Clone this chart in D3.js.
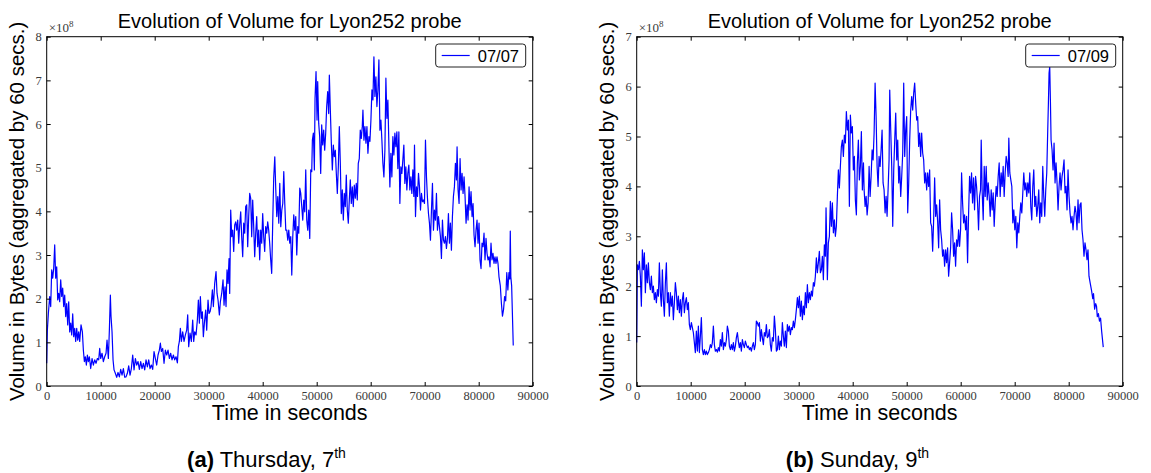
<!DOCTYPE html>
<html><head><meta charset="utf-8">
<script src="https://cdn.jsdelivr.net/npm/d3@7"></script>
<style>
html,body{margin:0;padding:0;background:#fff;}
svg{display:block;}
</style></head>
<body><svg id="c" width="1151" height="473"></svg>
<script>
// ---------- data (values in units of 1e8 bytes) ----------
const xTicks = [0,10000,20000,30000,40000,50000,60000,70000,80000,90000];
const yTicksA = [0,1,2,3,4,5,6,7,8];
const yTicksB = [0,1,2,3,4,5,6,7];
const titleText = "Evolution of Volume for Lyon252 probe";
const xLabel = "Time in seconds";
const yLabel = "Volume in Bytes (aggregated by 60 secs.)";
const legendA = "07/07";
const legendB = "07/09";

const timeA = [0,123,309,556,741,926,1111,1296,1482,1667,1852,2037,2222,2407,2593,2778,2963,3148,3333,3519,3704,3889,4074,4259,4444,4630,4815,5000,5185,5370,5556,5741,5926,6111,6358,6605,6790,6975,7160,7346,7531,7716,7901,8148,8395,8642,8889,9136,9383,9630,9815,10000,10247,10494,10741,10988,11173,11420,11605,11790,11914,12099,12284,12469,12716,12963,13210,13457,13704,13951,14198,14444,14691,14938,15185,15432,15679,15926,16173,16420,16667,16914,17160,17407,17654,17901,18148,18395,18642,18889,19136,19383,19630,19877,20123,20370,20617,20864,21049,21235,21481,21728,21975,22222,22469,22716,22963,23210,23457,23704,23951,24198,24383,24568,24753,24938,25185,25432,25679,25926,26111,26296,26543,26790,27037,27222,27407,27654,27901,28086,28272,28457,28642,28827,29012,29198,29444,29630,29877,30062,30247,30432,30679,30864,31111,31358,31543,31728,31975,32160,32407,32654,32840,33025,33210,33395,33580,33765,33889,34074,34259,34444,34630,34815,35000,35185,35370,35556,35741,35926,36111,36296,36481,36667,36852,37037,37222,37407,37593,37778,37963,38148,38333,38519,38704,38889,39074,39259,39444,39630,39815,40000,40185,40370,40556,40741,40926,41111,41296,41481,41667,41852,42037,42238,42423,42608,42793,42978,43163,43348,43534,43718,43903,44088,44274,44458,44643,44828,45013,45198,45383,45568,45753,45938,46123,46308,46493,46678,46863,47048,47233,47418,47602,47787,47972,48157,48342,48527,48714,48899,49083,49200,49384,49569,49692,49877,50062,50185,50370,50554,50739,50924,51109,51294,51478,51663,51848,52033,52218,52341,52526,52710,52895,53080,53265,53450,53634,53819,54004,54189,54374,54558,54743,54928,55113,55298,55482,55667,55852,56037,56222,56406,56591,56776,56961,57146,57330,57515,57700,57885,58070,58254,58439,58562,58747,58932,59117,59302,59486,59671,59856,60041,60226,60410,60595,60780,60965,61150,61334,61519,61704,61889,62074,62258,62443,62628,62813,62998,63182,63367,63552,63737,63922,64106,64291,64476,64661,64846,65030,65215,65400,65585,65770,65954,66139,66324,66509,66694,66878,67063,67248,67433,67618,67802,67987,68110,68295,68480,68665,68850,69034,69219,69404,69589,69774,69958,70143,70328,70513,70698,70882,71067,71252,71437,71622,71806,71991,72176,72361,72546,72730,72915,73100,73285,73470,73654,73839,74024,74209,74394,74578,74763,74948,75133,75318,75502,75687,75872,75995,76180,76365,76550,76735,76920,77104,77289,77474,77659,77844,78028,78213,78398,78583,78768,78952,79137,79322,79507,79692,79876,80061,80246,80431,80616,80800,80985,81170,81355,81540,81724,81909,82094,82279,82464,82648,82833,83018,83203,83388,83573,83758,84000,84200,84400,84600,84800,85000,85200,85400,85600,85750,85850,85950,86100,86400];
const volA = [0.52,1.28,1.66,2.05,1.82,2.66,2.47,2.69,3.23,2.47,2.73,1.97,2.12,1.93,2.43,2.05,2.24,1.82,2.08,1.59,1.89,1.40,1.93,1.24,1.44,1.17,1.65,1.13,1.32,1.02,1.32,1.05,1.24,1.02,1.40,1.24,0.82,0.56,0.67,0.48,0.71,0.56,0.67,0.40,0.63,0.48,0.60,0.52,0.63,0.60,0.86,0.63,0.75,0.56,0.67,0.75,1.05,0.63,1.28,2.08,1.59,1.24,0.60,0.37,0.29,0.20,0.31,0.21,0.38,0.25,0.40,0.20,0.21,0.29,0.46,0.25,0.40,0.71,0.37,0.63,0.48,0.56,0.38,0.56,0.40,0.52,0.37,0.60,0.44,0.60,0.40,0.48,0.38,0.79,0.63,0.48,0.71,0.82,0.98,0.79,0.86,0.52,0.82,0.71,0.82,0.63,0.75,0.60,0.71,0.60,0.67,0.53,0.90,1.02,1.32,1.02,1.24,1.02,1.17,1.28,1.63,0.90,1.21,1.02,1.51,1.02,1.24,1.17,1.51,1.97,1.44,2.05,1.55,1.70,1.13,1.44,1.74,1.28,1.97,1.66,1.70,1.82,2.20,1.82,2.35,2.62,2.12,1.97,1.63,1.93,2.12,2.43,1.85,2.27,1.82,2.66,2.35,2.92,2.12,4.03,3.42,3.57,3.08,3.69,3.76,3.57,3.80,3.27,3.69,3.99,3.42,2.96,3.73,3.50,4.11,4.15,3.19,3.88,4.41,4.30,3.42,4.26,3.65,2.96,3.50,3.88,3.19,3.57,2.89,3.57,3.27,3.95,3.42,3.08,3.65,3.50,3.76,3.57,3.27,2.89,2.58,3.73,4.76,5.25,4.49,3.88,4.34,3.73,4.64,3.65,4.03,4.18,4.91,4.18,3.57,3.57,3.34,3.57,3.27,3.42,2.54,3.42,3.92,3.57,3.88,3.00,3.65,3.50,4.53,4.41,4.11,3.80,4.26,3.99,4.95,3.80,3.57,4.03,3.38,4.95,4.91,5.63,5.79,4.95,6.59,7.20,6.09,6.97,6.02,5.71,4.87,5.98,5.52,5.86,5.40,5.79,6.40,6.74,6.24,7.12,6.32,5.56,4.95,5.52,5.25,5.40,4.87,4.41,5.02,5.94,5.10,3.95,4.49,3.80,4.41,4.11,4.83,4.03,3.73,4.26,4.72,4.18,4.56,4.11,4.60,4.30,4.64,4.26,5.10,5.21,5.86,5.67,5.94,6.32,5.63,5.94,5.56,5.94,5.33,5.71,5.60,6.09,6.78,6.55,7.54,6.63,7.08,6.40,6.78,7.47,5.86,6.09,5.63,5.10,4.79,5.40,7.05,6.13,6.55,5.52,4.56,5.33,4.79,5.71,5.29,5.79,5.48,5.82,4.98,5.82,4.18,5.02,4.87,5.18,5.52,4.64,5.02,4.49,4.87,5.06,4.49,4.79,4.41,4.95,4.34,5.52,3.88,4.56,4.34,4.87,4.56,4.03,4.41,4.22,4.26,4.18,5.63,4.79,4.30,3.95,3.73,3.34,4.03,4.64,3.57,4.03,3.80,4.41,3.57,3.88,3.65,3.42,2.92,3.80,3.34,3.27,3.42,3.15,3.38,3.95,3.27,3.73,3.11,3.88,4.34,4.56,5.10,4.72,5.48,4.49,4.18,5.21,4.49,4.87,4.41,4.79,4.34,3.73,4.15,3.80,4.56,4.03,4.45,3.88,4.18,3.46,3.19,3.57,3.80,3.27,3.73,2.89,2.69,3.27,3.19,3.50,2.89,3.38,3.04,2.89,2.96,2.73,3.27,2.89,3.04,2.81,2.96,2.81,2.96,2.81,2.50,2.30,1.90,1.60,1.75,2.05,1.95,2.60,2.20,2.60,2.45,3.55,2.50,2.30,0.93];

const timeB = [0,123,309,494,679,864,1049,1235,1420,1605,1790,1975,2160,2346,2531,2716,2901,3086,3272,3457,3642,3827,4012,4198,4383,4568,4753,4938,5124,5309,5494,5679,5864,6049,6235,6420,6605,6790,6975,7160,7346,7531,7716,7901,8086,8272,8457,8642,8827,9012,9198,9383,9568,9753,9938,10124,10309,10494,10679,10864,11049,11235,11420,11605,11790,11975,12160,12346,12531,12716,12901,13086,13272,13457,13642,13827,14012,14198,14383,14568,14753,14938,15123,15309,15494,15679,15864,16049,16235,16420,16605,16790,16975,17160,17346,17531,17716,17901,18086,18272,18457,18642,18827,19012,19198,19383,19568,19753,19938,20124,20309,20494,20679,20864,21049,21235,21420,21605,21790,21975,22160,22346,22531,22716,22901,23086,23272,23457,23642,23827,24012,24198,24383,24568,24753,24938,25124,25309,25494,25679,25864,26049,26235,26420,26605,26790,26975,27160,27346,27531,27716,27901,28086,28272,28457,28642,28827,29012,29198,29383,29568,29753,29938,30124,30309,30494,30679,30864,31049,31235,31420,31605,31790,31975,32160,32346,32531,32716,32901,33086,33272,33457,33642,33827,34012,34198,34383,34568,34753,34938,35062,35185,35309,35494,35679,35864,36049,36235,36420,36605,36790,36975,37160,37346,37531,37716,37901,38086,38272,38457,38642,38827,39012,39198,39383,39568,39753,39938,40124,40309,40494,40679,40864,41049,41235,41420,41605,41790,41992,42115,42300,42485,42670,42854,43039,43224,43409,43594,43778,43963,44148,44333,44518,44702,44887,45072,45257,45442,45626,45811,45996,46181,46366,46550,46735,46858,47043,47228,47413,47598,47782,47967,48152,48337,48522,48706,48891,49076,49261,49446,49630,49815,50000,50185,50370,50554,50739,50924,51109,51294,51478,51663,51848,52033,52218,52402,52587,52772,52957,53142,53326,53511,53696,53881,54066,54250,54435,54620,54805,54990,55174,55359,55544,55729,55914,56098,56283,56468,56653,56838,57022,57207,57392,57577,57762,57946,58131,58316,58501,58686,58870,59055,59240,59425,59610,59794,59979,60164,60349,60534,60718,60903,61088,61273,61458,61642,61827,62012,62197,62382,62566,62751,62936,63121,63306,63490,63675,63798,63983,64168,64353,64538,64722,64907,65092,65277,65462,65646,65831,66016,66201,66386,66570,66755,66940,67125,67310,67494,67679,67864,68049,68234,68418,68603,68788,68911,69096,69281,69466,69651,69835,70020,70205,70390,70575,70760,70944,71129,71314,71499,71684,71868,72053,72238,72423,72608,72792,72977,73162,73347,73532,73716,73901,74086,74271,74456,74640,74825,75010,75195,75380,75564,75749,75934,76119,76242,76365,76488,76611,76735,76920,77104,77289,77474,77659,77844,78028,78213,78398,78583,78768,78952,79137,79322,79507,79692,79876,80061,80246,80431,80616,80800,80985,81170,81355,81540,81724,81909,82094,82279,82464,82648,82833,83018,83203,83388,83573,83758,84000,84250,84450,84600,84800,85000,85150,85300,85500,85700,85900,86100,86400];
const volB = [0.87,2.43,2.33,2.50,2.20,1.60,2.73,2.33,2.67,1.87,2.43,2.07,2.47,2.07,1.93,2.20,1.87,2.00,1.73,1.87,1.67,1.93,1.80,2.47,1.87,1.60,2.33,1.73,1.40,2.07,2.47,1.67,1.87,1.40,1.87,1.60,1.80,1.33,1.67,2.07,1.87,1.53,1.80,1.47,1.73,1.40,1.73,1.87,1.47,1.67,1.77,1.53,1.67,1.23,1.13,1.27,1.17,1.07,0.87,0.67,1.10,0.70,1.20,0.67,1.00,1.37,0.73,0.63,0.73,0.63,0.70,0.63,0.67,0.73,0.83,0.77,0.87,1.20,0.83,0.70,0.73,0.68,0.77,0.70,0.93,0.80,1.07,0.73,0.87,0.80,0.93,1.20,1.10,0.80,0.73,0.83,0.73,0.87,0.70,0.80,0.97,1.07,0.90,0.77,0.87,0.70,0.93,0.83,0.77,0.90,0.83,0.77,0.80,0.73,0.77,0.70,0.80,0.87,0.73,0.83,1.30,1.27,1.20,1.27,0.90,1.13,0.97,0.83,1.07,1.00,1.23,0.97,1.00,1.13,0.83,0.70,0.97,0.90,1.40,1.13,0.70,0.73,1.00,0.73,0.90,0.80,1.27,1.00,0.80,1.10,0.77,1.23,1.10,1.20,1.03,1.17,1.13,1.30,1.17,1.33,1.53,1.77,1.57,1.80,1.40,1.70,1.33,1.60,1.43,1.87,1.57,2.03,1.67,1.87,1.73,1.90,1.80,2.07,2.00,2.20,2.57,2.27,2.47,2.70,2.27,2.33,2.60,2.13,2.83,2.60,3.57,2.87,2.13,2.87,3.00,3.70,3.20,3.67,3.07,3.33,3.00,3.20,3.80,4.33,3.97,4.40,4.80,4.93,4.60,5.03,4.87,5.50,5.13,5.33,3.60,5.43,5.07,5.20,4.33,4.60,3.73,3.43,4.47,4.93,4.13,4.40,5.10,3.93,4.47,3.93,3.60,3.80,3.43,3.67,4.40,3.80,4.20,4.73,4.53,5.07,6.07,5.40,4.40,4.00,4.60,4.40,4.73,5.13,4.07,3.93,3.47,3.80,3.40,3.93,4.53,5.93,5.13,4.40,3.20,4.33,4.93,5.47,4.53,4.93,4.07,4.40,3.80,4.20,4.67,6.07,4.60,5.13,5.40,3.47,4.07,4.93,5.53,5.80,5.53,5.87,6.07,5.67,5.33,5.40,4.80,5.07,4.60,5.07,4.67,4.53,4.07,4.27,3.93,4.27,4.00,4.33,3.27,3.20,2.70,3.33,4.17,3.40,3.63,3.30,2.77,3.73,3.13,2.93,2.60,2.73,2.40,2.73,2.47,2.77,2.20,2.47,2.77,3.47,3.13,2.60,2.87,2.40,2.93,2.80,3.13,2.80,3.13,4.27,3.67,3.27,3.43,3.13,3.40,2.47,3.43,4.20,3.87,4.27,3.67,4.17,3.53,4.20,4.00,3.67,3.13,3.80,3.93,4.93,3.87,3.33,4.40,3.80,4.40,3.73,4.07,3.80,3.40,3.93,3.53,3.87,3.20,3.67,4.00,3.80,4.20,4.47,3.80,4.27,4.00,4.40,3.80,4.27,4.60,4.47,4.20,4.97,4.27,4.13,4.00,3.27,3.53,3.13,3.40,2.77,3.27,3.07,3.40,3.67,3.47,3.87,4.27,3.93,4.07,3.80,4.07,3.87,4.27,3.60,3.33,4.00,4.33,3.60,3.80,3.40,3.60,3.93,3.27,3.67,3.40,4.40,3.80,3.40,3.93,4.27,5.13,5.67,6.27,6.40,5.73,4.93,4.73,4.33,4.87,4.07,4.47,4.07,3.53,4.00,4.27,3.93,4.20,4.33,4.53,3.87,4.00,3.53,4.33,3.80,3.47,3.27,3.40,3.13,3.40,3.60,3.47,3.13,3.73,3.27,3.63,3.67,3.13,2.93,2.60,2.87,2.73,2.53,2.73,2.20,2.05,1.90,1.75,1.85,1.54,1.65,1.60,1.39,1.45,1.30,1.36,1.10,0.78];

// ---------- layout ----------
const panels = [
  {left:46.7, right:532.7, time:timeA, vol:volA, yMax:8, yTicks:yTicksA, legend:legendA,
   capBold:"(a)", capText:" Thursday, 7", capSup:"th", capX:266.5, ylabX:24},
  {left:636.7, right:1122.7, time:timeB, vol:volB, yMax:7, yTicks:yTicksB, legend:legendB,
   capBold:"(b)", capText:" Sunday, 9", capSup:"th", capX:857.5, ylabX:614}
];
const plotTop = 36.7, plotBottom = 386;
const svg = d3.select("#c");
const serif = "'Liberation Serif','DejaVu Serif',serif";
const sans = "'Liberation Sans',Arial,Helvetica,sans-serif";

panels.forEach(p => {
  const x = d3.scaleLinear().domain([0, 90000]).range([p.left, p.right]);
  const y = d3.scaleLinear().domain([0, p.yMax]).range([plotBottom, plotTop]);
  const g = svg.append("g");
  const W = p.right - p.left, H = plotBottom - plotTop;
  const cx = (p.left + p.right) / 2;

  const n = Math.min(p.time.length, p.vol.length);
  const pts = d3.range(n).map(i => [p.time[i], p.vol[i]]);
  g.append("path").datum(pts)
    .attr("fill", "none").attr("stroke", "#0000ff").attr("stroke-width", 1.2)
    .attr("stroke-linejoin", "round")
    .attr("d", d3.line().x(d => x(d[0])).y(d => y(d[1])));

  const tickStyle = sel => {
    sel.select(".domain").remove();
    sel.selectAll(".tick line").attr("stroke", "#000");
    sel.selectAll(".tick text").attr("fill", "#3a3a3a").style("font-family", serif).style("font-size", "12.5px");
  };
  g.append("g").attr("transform", `translate(0,${plotBottom})`)
    .call(d3.axisBottom(x).tickValues(xTicks).tickFormat(d3.format("d")).tickSizeInner(-4).tickSizeOuter(0).tickPadding(5))
    .call(tickStyle);
  g.append("g").attr("transform", `translate(0,${plotTop})`)
    .call(d3.axisTop(x).tickValues(xTicks).tickFormat("").tickSizeInner(-4).tickSizeOuter(0))
    .call(tickStyle);
  g.append("g").attr("transform", `translate(${p.left},0)`)
    .call(d3.axisLeft(y).tickValues(p.yTicks).tickFormat(d3.format("d")).tickSizeInner(-4).tickSizeOuter(0).tickPadding(5))
    .call(tickStyle);
  g.append("g").attr("transform", `translate(${p.right},0)`)
    .call(d3.axisRight(y).tickValues(p.yTicks).tickFormat("").tickSizeInner(-4).tickSizeOuter(0))
    .call(tickStyle);

  g.append("rect").attr("x", p.left).attr("y", plotTop).attr("width", W).attr("height", H)
    .attr("fill", "none").attr("stroke", "#000").attr("stroke-width", 1);

  const mult = g.append("text").attr("x", p.left + 2).attr("y", plotTop - 5)
    .attr("fill", "#3a3a3a").style("font-family", serif).style("font-size", "13px");
  mult.append("tspan").text("\u00d710");
  mult.append("tspan").attr("dy", -5).style("font-size", "9px").text("8");

  g.append("text").attr("x", cx).attr("y", 28).attr("text-anchor", "middle")
    .style("font-family", sans).style("font-size", "20px").text(titleText);
  g.append("text").attr("x", cx).attr("y", 420).attr("text-anchor", "middle")
    .style("font-family", sans).style("font-size", "21.5px").text(xLabel);
  g.append("text").attr("transform", `translate(${p.ylabX},${(plotTop + plotBottom) / 2}) rotate(-90)`)
    .attr("text-anchor", "middle")
    .style("font-family", sans).style("font-size", "20.5px").text(yLabel);

  const lg = g.append("g").attr("transform", `translate(${p.right - 97},${plotTop + 7.3})`);
  lg.append("rect").attr("width", 90).attr("height", 23).attr("rx", 3)
    .attr("fill", "#fff").attr("stroke", "#222").attr("stroke-width", 1);
  lg.append("line").attr("x1", 6).attr("x2", 34).attr("y1", 11.5).attr("y2", 11.5)
    .attr("stroke", "#0000ff").attr("stroke-width", 1.2);
  lg.append("text").attr("x", 42).attr("y", 17.5)
    .style("font-family", sans).style("font-size", "16.5px").text(p.legend);

  const cap = svg.append("text").attr("x", p.capX).attr("y", 467).attr("text-anchor", "middle")
    .style("font-family", sans).style("font-size", "22px");
  cap.append("tspan").style("font-weight", "bold").text(p.capBold);
  cap.append("tspan").text(p.capText);
  cap.append("tspan").attr("dy", -9).style("font-size", "14px").text(p.capSup);
});
</script>
</body></html>
